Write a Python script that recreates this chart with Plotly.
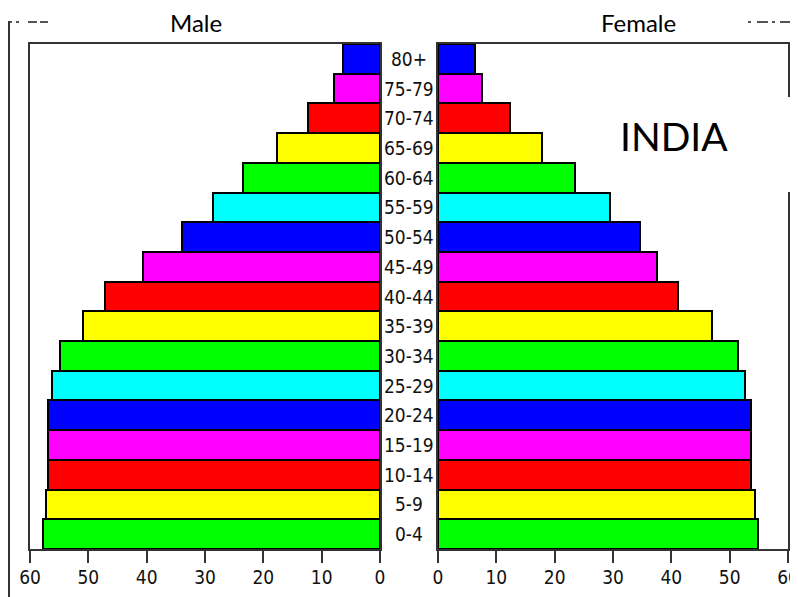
import plotly.graph_objects as go
from plotly.subplots import make_subplots

# population by age group, millions
ages = ["0-4", "5-9", "10-14", "15-19", "20-24", "25-29", "30-34", "35-39",
        "40-44", "45-49", "50-54", "55-59", "60-64", "65-69", "70-74", "75-79", "80+"]
male = [57.8, 57.3, 57.0, 57.0, 57.0, 56.2, 54.8, 51.0, 47.1, 40.7,
        34.0, 28.7, 23.5, 17.7, 12.3, 7.9, 6.3]
female = [54.9, 54.3, 53.7, 53.7, 53.7, 52.7, 51.4, 46.9, 41.1, 37.6,
          34.7, 29.4, 23.4, 17.8, 12.3, 7.6, 6.3]
tick_vals = [0, 10, 20, 30, 40, 50, 60]

palette = ["#00ff00", "#ffff00", "#ff0000", "#ff00ff", "#0000ff", "#00ffff"]
bar_colors = [palette[i % len(palette)] for i in range(len(ages))]

# the page body has an 8px margin, so the figure is drawn 8px in from the corner
OFF = 8
W, H = 798 - OFF, 597 - OFF


def px(x):
    return (x - OFF) / W


def py(y):
    return 1 - (y - OFF) / H


narrow = "DejaVu Sans Condensed, Liberation Sans Narrow, sans-serif"

fig = make_subplots(rows=1, cols=2, horizontal_spacing=0.05)

fig.add_trace(go.Bar(y=ages, x=male, orientation="h", name="Male",
                     marker=dict(color=bar_colors, line=dict(color="black", width=2))),
              row=1, col=1)
fig.add_trace(go.Bar(y=ages, x=female, orientation="h", name="Female",
                     marker=dict(color=bar_colors, line=dict(color="black", width=2))),
              row=1, col=2)

axis_common = dict(showgrid=False, zeroline=False, showline=True, linecolor="#333",
                   linewidth=2, mirror=True, ticks="outside", ticklen=12, tickwidth=1.5,
                   tickcolor="#333", tickvals=tick_vals, fixedrange=True, automargin=False,
                   ticklabelstandoff=-2, ticklabeloverflow="allow",
                   tickfont=dict(family=narrow, size=19, color="#111"))
fig.update_xaxes(range=[60, 0], domain=[px(30), px(380)], row=1, col=1, **axis_common)
fig.update_xaxes(range=[0, 60], domain=[px(438), px(788)], row=1, col=2, **axis_common)
fig.update_yaxes(range=[-0.5, len(ages) - 0.5], domain=[py(549), py(44)],
                 showticklabels=False, showgrid=False, zeroline=False, showline=True,
                 linecolor="#333", linewidth=2, mirror=True, ticks="", automargin=False)

# age group labels in the middle column
for a in ages:
    fig.add_annotation(x=px(409), xref="paper", y=a, yref="y", text=a, showarrow=False,
                       xanchor="center", yanchor="middle",
                       font=dict(family=narrow, size=19, color="#111"))

title_font = dict(family="Lato, Open Sans", size=24, color="black")
fig.add_annotation(x=px(195.5), y=py(22), xref="paper", yref="paper", text="Male",
                   showarrow=False, xanchor="center", yanchor="middle", font=title_font)
fig.add_annotation(x=px(638), y=py(22), xref="paper", yref="paper", text="Female",
                   showarrow=False, xanchor="center", yanchor="middle", font=title_font)

# white box with the country name
fig.add_shape(type="rect", xref="paper", yref="paper", x0=px(597), x1=1, y0=py(192),
              y1=py(97), fillcolor="white", line=dict(width=0), layer="above")
fig.add_annotation(x=px(674), y=py(136), xref="paper", yref="paper", text="INDIA",
                   showarrow=False, xanchor="center", yanchor="middle",
                   font=dict(family="Lato, Open Sans", size=39, color="black"))

# leftover scan marks at the edges
fig.add_shape(type="line", xref="paper", yref="paper", x0=px(9), x1=px(9), y0=0,
              y1=py(21), line=dict(color="#333", width=2))
for x0, x1 in [(10, 12), (16, 19), (28, 37), (40, 48), (748, 751), (757, 768), (772, 775), (780, 798)]:
    fig.add_shape(type="line", xref="paper", yref="paper", x0=px(x0), x1=px(x1),
                  y0=py(22), y1=py(22), line=dict(color="#555", width=2))

fig.update_layout(width=W, height=H, margin=dict(l=0, r=0, t=0, b=0), bargap=0,
                  showlegend=False, plot_bgcolor="white", paper_bgcolor="white")

fig.write_html("out.html")
